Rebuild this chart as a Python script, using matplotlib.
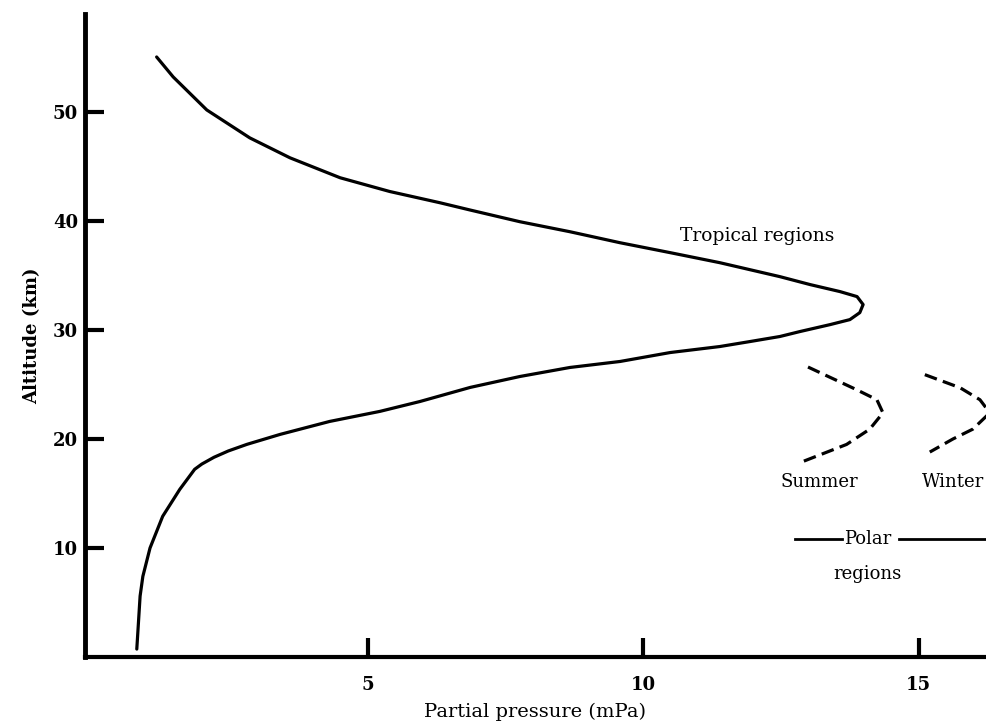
import numpy as np
import matplotlib.pyplot as plt

# ozone partial pressure profiles
trop_alt = [55.04, 53.21, 50.18, 47.62, 45.79, 43.96, 42.70, 41.67, 41.00, 39.93,
            39.01, 38.00, 37.09, 36.17, 34.89, 34.16, 33.52, 33.06, 32.33, 31.59,
            30.95, 30.49, 29.85, 29.40, 28.94, 28.48, 27.93, 27.11, 26.56, 25.73,
            24.73, 23.44, 22.53, 21.61, 20.42, 19.51, 18.90, 18.32, 17.70, 17.22,
            15.38, 12.91, 10.0, 7.4, 5.59, 0.73]
trop_pp = [1.17, 1.47, 2.08, 2.86, 3.59, 4.50, 5.40, 6.31, 6.86, 7.76,
           8.67, 9.58, 10.49, 11.39, 12.48, 13.03, 13.57, 13.88, 13.99, 13.93,
           13.75, 13.39, 12.84, 12.48, 11.94, 11.39, 10.49, 9.58, 8.67, 7.76,
           6.86, 5.95, 5.22, 4.31, 3.41, 2.81, 2.47, 2.21, 1.99, 1.86,
           1.59, 1.28, 1.05, 0.92, 0.87, 0.81]

summer_alt = [26.6, 24.5, 23.6, 22.4, 20.9, 19.5, 17.9]
summer_pp = [12.99, 13.88, 14.24, 14.35, 14.11, 13.69, 12.88]

winter_alt = [25.9, 24.7, 23.6, 22.4, 20.9, 20.0, 18.8]
winter_pp = [15.11, 15.75, 16.11, 16.29, 15.98, 15.62, 15.20]

xticks = [5, 10, 15]
yticks = [10, 20, 30, 40, 50]

plt.rcParams['font.family'] = ['DejaVu Serif']

fig = plt.figure(figsize=(9.86, 7.26), dpi=100)
ax = fig.add_axes([0.0862, 0.095, 0.9138, 0.886])

ax.plot(trop_pp, trop_alt, color='black', lw=2.3, solid_capstyle='round',
        solid_joinstyle='round')
ax.plot(summer_pp, summer_alt, color='black', lw=2.3, ls=(0, (4, 2)))
ax.plot(winter_pp, winter_alt, color='black', lw=2.3, ls=(0, (4, 2)))

ax.set_xlim(-0.13, 16.22)
ax.set_ylim(0, 59)

ax.spines['top'].set_visible(False)
ax.spines['right'].set_visible(False)
ax.spines['left'].set_linewidth(3.5)
ax.spines['bottom'].set_linewidth(3)

ax.set_xticks(xticks)
ax.set_yticks(yticks)
ax.tick_params(axis='both', direction='in', length=14, width=3, labelsize=13)
ax.tick_params(axis='x', pad=14)
ax.tick_params(axis='y', pad=5)
for lab in ax.get_yticklabels() + ax.get_xticklabels():
    lab.set_fontweight('bold')

ax.set_xlabel('Partial pressure (mPa)', fontsize=14, labelpad=6)
ax.set_ylabel('Altitude (km)', fontsize=13, fontweight='bold', labelpad=8)

ax.text(10.66, 38.6, 'Tropical regions', fontsize=13.5, ha='left', va='center')
ax.text(13.2, 16.1, 'Summer', fontsize=13, ha='center', va='center')
ax.text(15.06, 16.1, 'Winter', fontsize=13, ha='left', va='center', clip_on=True)
ax.text(14.07, 10.8, 'Polar', fontsize=13, ha='center', va='center')
ax.text(14.07, 7.6, 'regions', fontsize=13, ha='center', va='center')
ax.plot([12.75, 13.6], [10.8, 10.8], color='black', lw=2)
ax.plot([14.65, 16.22], [10.8, 10.8], color='black', lw=2, clip_on=False)

fig.savefig('out.png', dpi=100)
